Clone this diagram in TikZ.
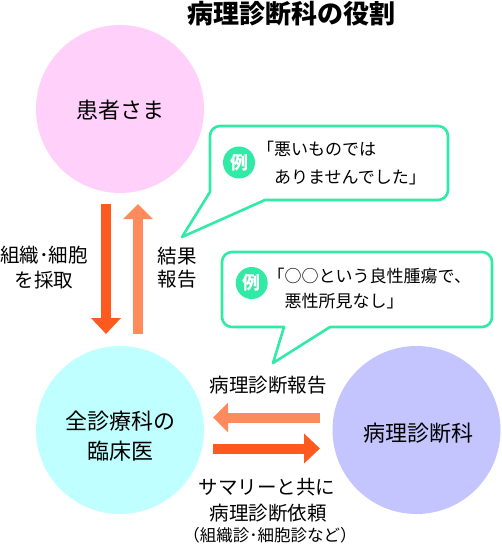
\documentclass[tikz,border=0pt]{standalone}
\usepackage{fontspec}
\setmainfont{Noto Sans CJK JP}
\usetikzlibrary{arrows.meta}
\definecolor{pinkc}{RGB}{255,208,250}
\definecolor{cyanc}{RGB}{192,255,255}
\definecolor{lavc}{RGB}{196,196,255}
\definecolor{mint}{RGB}{48,234,166}
\definecolor{darkarr}{RGB}{255,90,30}
\definecolor{lightarr}{RGB}{255,138,92}
\begin{document}
\begin{tikzpicture}[x=1pt,y=-1pt,
  bigcircle/.style={circle,inner sep=0pt,minimum size=168pt},
  circtext/.style={inner sep=0pt,font=\fontsize{22}{26}\selectfont},
  lbl/.style={inner sep=0pt,font=\fontsize{19.5}{24}\selectfont},
  calltext/.style={inner sep=0pt,anchor=west,font=\fontsize{17}{20}\selectfont},
  callout/.style={draw=mint,line width=2.6pt,fill=white,line join=round},
  badge/.style={circle,fill=mint,inner sep=0pt,minimum size=32pt,text=white,font=\bfseries\fontsize{18}{20}\selectfont},
  darkblock/.style={draw=darkarr,line width=10pt,-{Triangle[length=16pt,width=29pt]}},
  lightblock/.style={draw=lightarr,line width=10pt,-{Triangle[length=15pt,width=29pt]}}
]
\useasboundingbox (0,0) rectangle (501,545);

% title
\node[inner sep=0pt,font=\bfseries\fontsize{26}{30}\selectfont] (title) at (291,14) {病理診断科の役割};

% circles
\node[bigcircle,fill=pinkc] (patient) at (120,109) {};
\node[bigcircle,fill=cyanc] (doctor) at (120,430) {};
\node[bigcircle,fill=lavc] (patho) at (416.5,430) {};
\node[circtext] (patientT) at (120,110) {患者さま};
\node[circtext] (doctorT1) at (120,421.5) {全診療科の};
\node[circtext] (doctorT2) at (120,451.5) {臨床医};
\node[circtext] (pathoT) at (418,433) {病理診断科};

% vertical arrows
\coordinate (dA) at (106,204);
\coordinate (dB) at (106,334);
\coordinate (uA) at (138,334);
\coordinate (uB) at (138,204);
\draw[darkblock] (dA) -- (dB);
\draw[lightblock] (uA) -- (uB);

% horizontal arrows
\coordinate (lA) at (320,417.5);
\coordinate (lB) at (213,417.5);
\coordinate (rA) at (213,448.5);
\coordinate (rB) at (320,448.5);
\draw[lightblock] (lA) -- (lB);
\draw[darkblock] (rA) -- (rB);

% labels
\node[lbl] (takeA) at (44,255) {組織･細胞};
\node[lbl] (takeB) at (44,280) {を採取};
\node[lbl] (resA) at (177,256) {結果};
\node[lbl] (resB) at (177,279) {報告};
\node[lbl] (report) at (268,385) {病理診断報告};
\node[lbl] (reqA) at (267,487) {サマリーと共に};
\node[lbl] (reqB) at (268,513) {病理診断依頼};
\node[inner sep=0pt,font=\fontsize{16.5}{19}\selectfont] (reqC) at (270,535) {（組織診･細胞診など）};

% callout 1
\draw[callout] (265,200) -- (182,237) -- (210,192) -- (210,136)
  arc[start angle=180,end angle=270,radius=10] -- (438,126)
  arc[start angle=270,end angle=360,radius=10] -- (448,190)
  arc[start angle=0,end angle=90,radius=10] -- cycle;
\node[badge] (ex1) at (239,162.5) {例};
\node[calltext] (c1a) at (257,149) {「悪いものでは};
\node[calltext] (c1b) at (257,177) {　ありませんでした」};

% callout 2
\draw[callout] (284,327) -- (273,363) -- (330,327) -- (482,327)
  arc[start angle=90,end angle=0,radius=10] -- (492,262)
  arc[start angle=0,end angle=-90,radius=10] -- (232,252)
  arc[start angle=-90,end angle=-180,radius=10] -- (222,317)
  arc[start angle=180,end angle=90,radius=10] -- cycle;
\node[badge] (ex2) at (251.7,283) {例};
\node[calltext] (c2a) at (267.5,276) {「○○という良性腫瘍で、};
\node[calltext] (c2b) at (267.5,301) {　悪性所見なし」};
\end{tikzpicture}
\end{document}
